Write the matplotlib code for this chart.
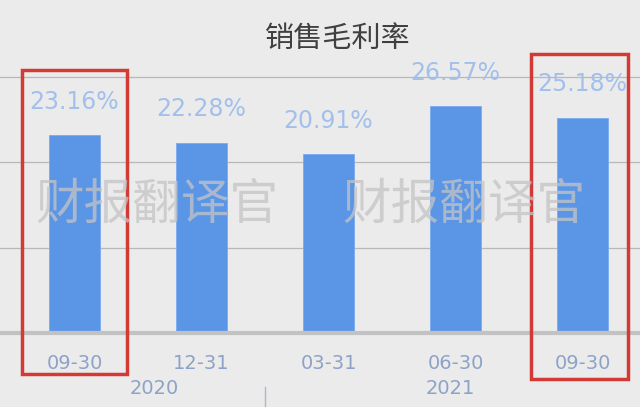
import matplotlib.pyplot as plt
from matplotlib.patches import Rectangle
from matplotlib.transforms import blended_transform_factory

plt.rcParams['font.family'] = ['Noto Sans CJK SC', 'DejaVu Sans']

# 销售毛利率 数据
quarters = ["09-30", "12-31", "03-31", "06-30", "09-30"]
margins = [23.16, 22.28, 20.91, 26.57, 25.18]
years = ["2020", "2021"]
year_groups = [(0, 1), (2, 4)]
highlight = [0, 4]

bg = "#ebebeb"
fig = plt.figure(figsize=(6.4, 4.07), dpi=100, facecolor=bg)
ax = fig.add_axes([0, 0.1818, 1, 0.735])
ax.set_facecolor(bg)

x = list(range(len(quarters)))
ax.bar(x, margins, width=0.4, color="#5b96e6", edgecolor="#7aaaf0", linewidth=0.6, zorder=3)

ax.set_xlim(-0.587, 4.453)
ax.set_ylim(0, 35)
ax.set_yticks([10, 20, 30])
ax.yaxis.grid(True, color="#b8b8b8", linewidth=0.9, zorder=0)
ax.tick_params(axis="y", left=False, labelleft=False)
for s in ["left", "right", "top"]:
    ax.spines[s].set_visible(False)
ax.spines["bottom"].set_color("#c2c2c2")
ax.spines["bottom"].set_linewidth(3)
ax.spines["bottom"].set_zorder(4)

ax.set_xticks(x)
ax.set_xticklabels(quarters, fontsize=14, color="#8ea2c8", family="DejaVu Sans")
ax.tick_params(axis="x", length=0, pad=15)

# 数值标签
for i, v in enumerate(margins):
    ax.annotate(f"{v:.2f}%", (i, v), xytext=(0, 24), textcoords="offset points",
                ha="center", va="center", fontsize=17, color="#a3c0ec",
                family="DejaVu Sans", zorder=5)

# 年份标签
trans = blended_transform_factory(ax.transData, fig.transFigure)
year_x = [0.63, 2.96]
for xx, yr in zip(year_x, years):
    ax.text(xx, 0.045, yr, transform=trans, ha="center", va="center",
            fontsize=14, color="#8ea2c8", family="DejaVu Sans")
ax.plot([1.5, 1.5], [0, 0.05], transform=trans, color="#a8b8d4", lw=1, clip_on=False)

# 标题
fig.text(0.527, 0.905, "销售毛利率", ha="center", va="center", fontsize=21, color="#404040")

# 水印
for wx in [0.245, 0.725]:
    fig.text(wx, 0.497, "财报翻译官", ha="center", va="center", fontsize=35,
             color="#c4c4c4", alpha=0.75, zorder=10)

# 红框
boxes = {0: (-0.417, 0.417, -4.8, 30.8), 4: (-0.405, 0.358, -5.4, 32.6)}
for i in highlight:
    l, r, b, t = boxes[i]
    ax.add_patch(Rectangle((i + l, b), r - l, t - b, fill=False, edgecolor="#d23a36",
                           linewidth=2.5, clip_on=False, zorder=6))

fig.savefig("out.png", dpi=100, facecolor=bg)
